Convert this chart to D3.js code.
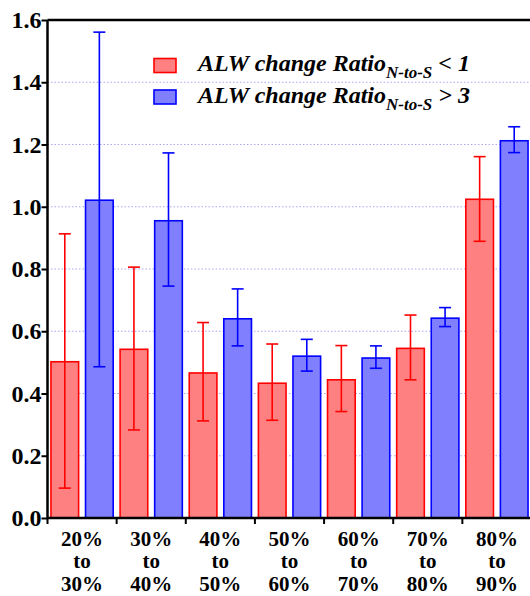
<!DOCTYPE html>
<html>
<head>
<meta charset="utf-8">
<script src="https://cdn.jsdelivr.net/npm/d3@7"></script>
<style>
    body { margin: 0; background: #fff; }
    svg text { font-family: "Liberation Serif", "DejaVu Serif", serif; font-weight: bold; }
</style>
</head>
<body>
<div id="chart"></div>
<script>
const categories = ["20%|to|30%", "30%|to|40%", "40%|to|50%", "50%|to|60%", "60%|to|70%", "70%|to|80%", "80%|to|90%"];
const seriesNames = ["low", "high"];

// ALW change ratio < 1
const lowMean  = [0.502, 0.542, 0.466, 0.433, 0.444, 0.545, 1.024];
const lowLower = [0.096, 0.283, 0.312, 0.314, 0.342, 0.444, 0.889];
const lowUpper = [0.913, 0.806, 0.628, 0.559, 0.554, 0.652, 1.161];

// ALW change ratio > 3
const highMean  = [1.021, 0.955, 0.640, 0.520, 0.514, 0.642, 1.212];
const highLower = [0.486, 0.745, 0.553, 0.472, 0.481, 0.615, 1.174];
const highUpper = [1.561, 1.173, 0.736, 0.574, 0.553, 0.676, 1.257];

const yTicks = [0.0, 0.2, 0.4, 0.6, 0.8, 1.0, 1.2, 1.4, 1.6];
const gridTicks = [0.2, 0.4, 0.6, 0.8, 1.0, 1.2, 1.4];

const colors = {
    low:  { fill: "#ff8080", stroke: "#ff0000" },
    high: { fill: "#8080ff", stroke: "#0000ff" }
};

const FONT = "'Liberation Serif', 'DejaVu Serif', serif";
const width = 530, height = 596;
const plot = { left: 47.5, right: 531.5, top: 20, bottom: 518 };

const svg = d3.select("#chart")
    .append("svg")
    .attr("width", width)
    .attr("height", height);

const x = d3.scaleBand()
    .domain(categories)
    .range([plot.left, plot.right])
    .padding(0);

const xSub = d3.scaleBand()
    .domain(seriesNames)
    .range([0, x.bandwidth()])
    .paddingInner(0.2)
    .paddingOuter(0.1);

const y = d3.scaleLinear()
    .domain([0, 1.6])
    .range([plot.bottom, plot.top]);

// grid
svg.append("g")
    .selectAll("line")
    .data(gridTicks)
    .enter()
    .append("line")
    .attr("x1", plot.left)
    .attr("x2", plot.right)
    .attr("y1", d => y(d))
    .attr("y2", d => y(d))
    .attr("stroke", "#a8a8f4")
    .attr("stroke-width", 1)
    .attr("stroke-dasharray", "1.5,2");

const data = categories.map((c, i) => [
    { cat: c, key: "low", mean: lowMean[i], lo: lowLower[i], hi: lowUpper[i] },
    { cat: c, key: "high", mean: highMean[i], lo: highLower[i], hi: highUpper[i] }
]).flat();

// bars
svg.append("g")
    .selectAll("rect")
    .data(data)
    .enter()
    .append("rect")
    .attr("x", d => x(d.cat) + xSub(d.key))
    .attr("y", d => y(d.mean))
    .attr("width", xSub.bandwidth())
    .attr("height", d => y(0) - y(d.mean))
    .attr("fill", d => colors[d.key].fill)
    .attr("stroke", d => colors[d.key].stroke)
    .attr("stroke-width", 1.6);

// error bars
const err = svg.append("g")
    .selectAll("g")
    .data(data)
    .enter()
    .append("g")
    .attr("stroke", d => colors[d.key].stroke)
    .attr("stroke-width", 1.6);

const cx = d => x(d.cat) + xSub(d.key) + xSub.bandwidth() / 2;
const capW = 6;

err.append("line")
    .attr("x1", cx).attr("x2", cx)
    .attr("y1", d => y(d.lo)).attr("y2", d => y(d.hi));
err.append("line")
    .attr("x1", d => cx(d) - capW).attr("x2", d => cx(d) + capW)
    .attr("y1", d => y(d.hi)).attr("y2", d => y(d.hi));
err.append("line")
    .attr("x1", d => cx(d) - capW).attr("x2", d => cx(d) + capW)
    .attr("y1", d => y(d.lo)).attr("y2", d => y(d.lo));

// y axis
const yAxis = svg.append("g")
    .attr("transform", `translate(${plot.left},0)`)
    .call(d3.axisLeft(y).tickValues(yTicks).tickFormat(d3.format(".1f")).tickSize(6).tickPadding(0));
yAxis.attr("font-family", FONT).attr("font-size", 24);
yAxis.select(".domain").attr("stroke-width", 2.5).attr("d", `M0,${plot.top}V${plot.bottom}`);
yAxis.selectAll(".tick line").attr("stroke-width", 2);
yAxis.selectAll(".tick text")
    .attr("font-weight", "bold")
    .attr("fill", "#000");

// top frame
svg.append("line")
    .attr("x1", plot.left).attr("x2", plot.right)
    .attr("y1", plot.top).attr("y2", plot.top)
    .attr("stroke", "#000")
    .attr("stroke-width", 2.5);

// x axis
svg.append("line")
    .attr("x1", plot.left).attr("x2", plot.right)
    .attr("y1", plot.bottom).attr("y2", plot.bottom)
    .attr("stroke", "#000")
    .attr("stroke-width", 2.5);

svg.append("g")
    .selectAll("line")
    .data(categories)
    .enter()
    .append("line")
    .attr("x1", d => x(d)).attr("x2", d => x(d))
    .attr("y1", plot.bottom).attr("y2", plot.bottom + 6)
    .attr("stroke", "#000")
    .attr("stroke-width", 2);

const xLabels = svg.append("g")
    .selectAll("text")
    .data(categories)
    .enter()
    .append("text")
    .attr("text-anchor", "middle")
    .attr("font-family", FONT)
    .attr("font-size", 21)
    .attr("fill", "#000");

xLabels.selectAll("tspan")
    .data(d => d.split("|").map(s => ({ s, c: d })))
    .enter()
    .append("tspan")
    .attr("x", d => x(d.c) + x.bandwidth() / 2)
    .attr("y", (d, i) => 545.5 + i * 22.5)
    .text(d => d.s);

// legend
const legendItems = [
    { key: "low", rel: "< 1" },
    { key: "high", rel: "> 3" }
];

const legend = svg.append("g")
    .selectAll("g")
    .data(legendItems)
    .enter()
    .append("g")
    .attr("transform", (d, i) => `translate(154,${58.5 + i * 31.5})`);

legend.append("rect")
    .attr("width", 22)
    .attr("height", 14)
    .attr("fill", d => colors[d.key].fill)
    .attr("stroke", d => colors[d.key].stroke)
    .attr("stroke-width", 1.6);

const lt = legend.append("text")
    .attr("x", 44)
    .attr("y", 12.5)
    .attr("font-family", FONT)
    .attr("font-size", 24)
    .attr("font-style", "italic")
    .attr("fill", "#000");
lt.append("tspan").text("ALW change Ratio");
lt.append("tspan").attr("font-size", 17).attr("dy", 7).text("N-to-S");
lt.append("tspan").attr("dy", -7).text(d => " " + d.rel);
</script>
</body>
</html>
